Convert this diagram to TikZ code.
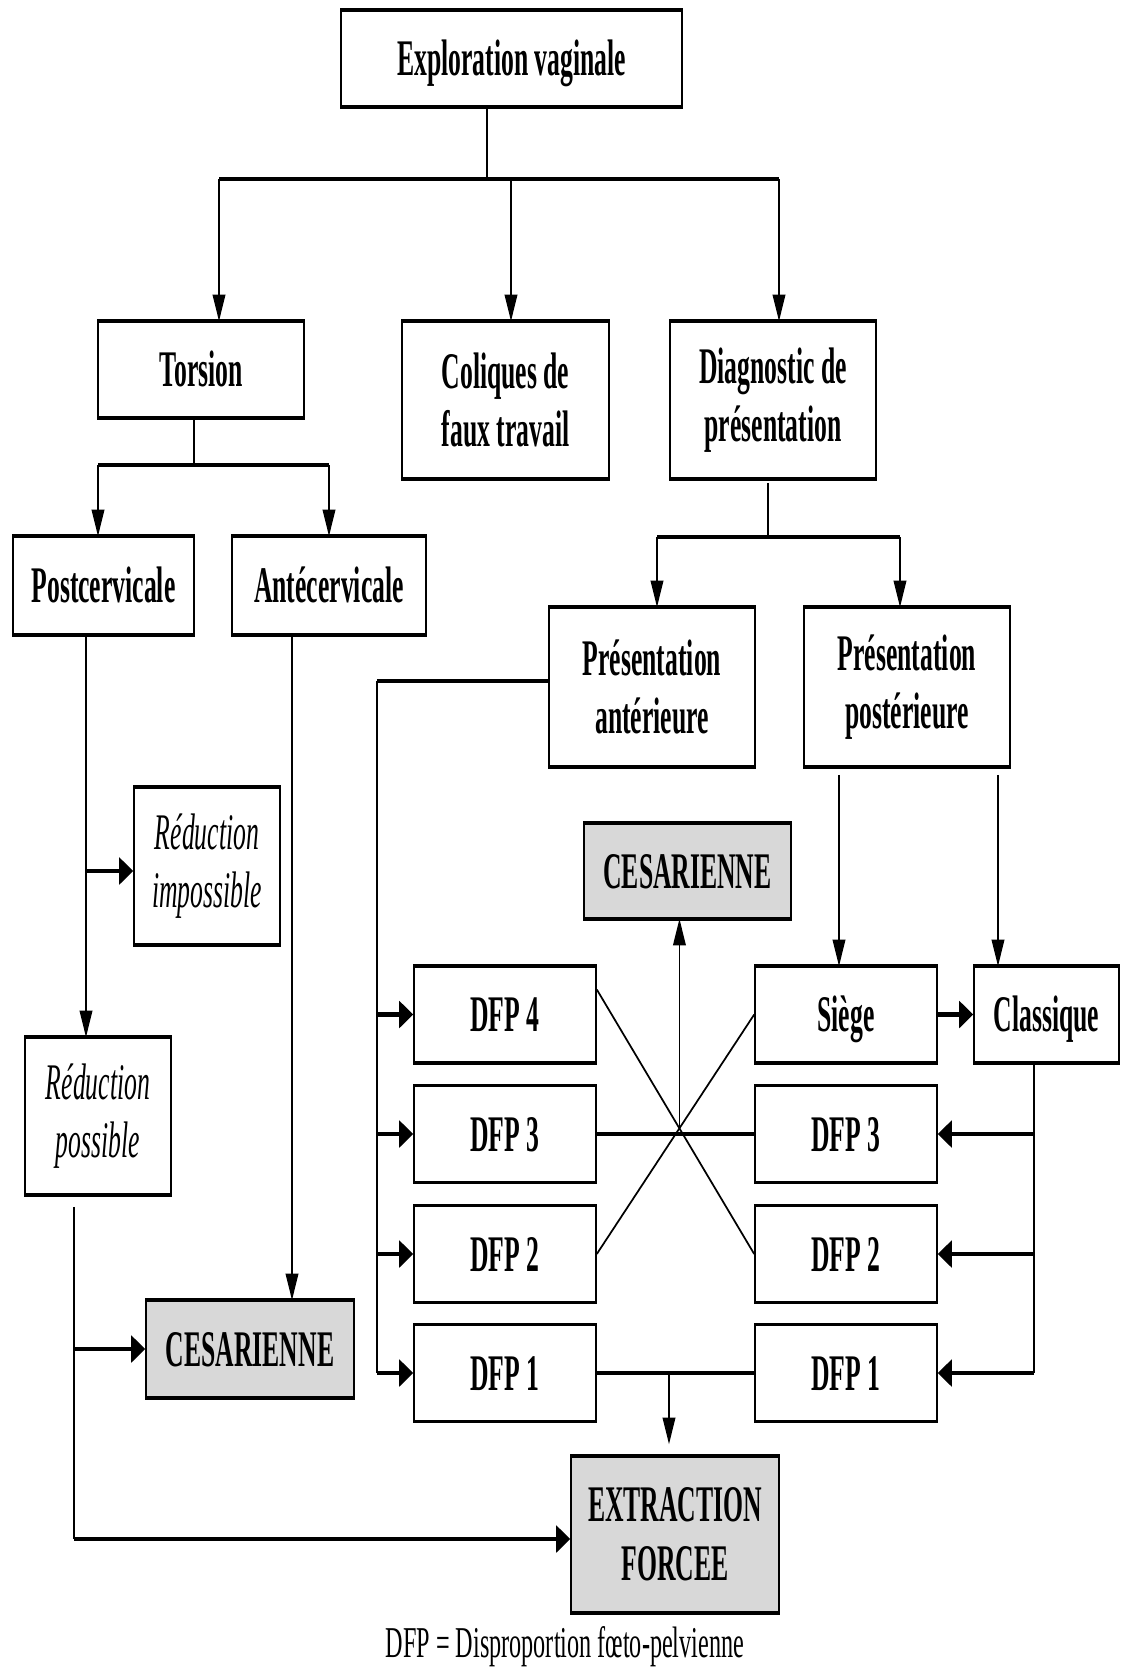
\documentclass[tikz,border=0pt]{standalone}
\usepackage{fontspec}
\setmainfont{Liberation Serif}[FakeStretch=0.55]
\newfontfamily\boxfont{Liberation Serif}[FakeStretch=0.5]
\usetikzlibrary{arrows.meta,calc}

\definecolor{boxgrey}{RGB}{216,216,216}

\tikzset{
  box/.style={draw, line width=1.2pt, inner sep=0pt, align=center,
    font=\boxfont\fontsize{38.5}{44}\selectfont\bfseries},
  oneline/.style={text height=25.5pt, text depth=0pt},
  greybox/.style={box, fill=boxgrey},
  notebox/.style={box, font=\boxfont\fontsize{38.5}{44}\selectfont\itshape},
  dfpbox/.style={box, oneline, minimum width=136.5pt, minimum height=71.25pt},
  vline/.style={line width=1.2pt},
  hline/.style={line width=2.4pt},
  dline/.style={line width=1.3pt},
  varr/.style={vline, -{Triangle[length=20pt,width=9.5pt]}},
  harr/.style={line width=3.2pt, -{Triangle[length=10.5pt,width=20pt]}},
}

\begin{document}
\begin{tikzpicture}[x=0.75pt,y=0.75pt,yscale=-1,xscale=1]
\useasboundingbox (0,0) rectangle (1121,1668);

%Boxes: top levels
\node (expl) at (511.5,58.5) [box, oneline, minimum width=255.75pt, minimum height=71.25pt] {Exploration vaginale};
\node (tors) at (201,369.5) [box, oneline, minimum width=154.5pt, minimum height=71.25pt] {Torsion};
\node (coliq) at (505.5,400) [box, minimum width=155pt, minimum height=117pt] {Coliques de\\faux travail};
\node (diag) at (773,400) [box, minimum width=154.5pt, minimum height=117pt] {Diagnostic de\\présentation};
\node (postc) at (103.5,585.5) [box, oneline, minimum width=135.75pt, minimum height=72.75pt] {Postcervicale};
\node (antec) at (329,585.5) [box, oneline, minimum width=145.5pt, minimum height=72.75pt] {Antécervicale};
\node (prant) at (652,687) [box, minimum width=154.5pt, minimum height=118.5pt] {Présentation\\antérieure};
\node (prpost) at (907,687) [box, minimum width=154.5pt, minimum height=118.5pt] {Présentation\\postérieure};

%Boxes: left branch
\node (redimp) at (207,866) [notebox, minimum width=109.5pt, minimum height=117pt] {Réduction\\impossible};
\node (redpos) at (98,1116) [notebox, minimum width=109.5pt, minimum height=117pt] {Réduction\\possible};
\node (cesdn) at (250,1349) [greybox, oneline, minimum width=156pt, minimum height=72pt] {CESARIENNE};

%Boxes: DFP grid
\node (cesup) at (687.5,871) [greybox, oneline, minimum width=155.25pt, minimum height=70.5pt] {CESARIENNE};
\node (d4l) at (505,1014.5) [dfpbox] {DFP 4};
\node (d3l) at (505,1134) [dfpbox] {DFP 3};
\node (d2l) at (505,1254) [dfpbox] {DFP 2};
\node (d1l) at (505,1373) [dfpbox] {DFP 1};
\node (siege) at (846,1014.5) [dfpbox] {Siège};
\node (classq) at (1046.5,1014.5) [box, oneline, minimum width=108.75pt, minimum height=71.25pt] {Classique};
\node (d3r) at (846,1134) [dfpbox] {DFP 3};
\node (d2r) at (846,1254) [dfpbox] {DFP 2};
\node (d1r) at (846,1373) [dfpbox] {DFP 1};
\node (extr) at (675,1534.5) [greybox, minimum width=156pt, minimum height=116.25pt] {EXTRACTION\\FORCEE};

% Text Node
\node (note) at (565,1657) [anchor=base, font=\fontsize{33}{36}\selectfont] {DFP = Disproportion fœto-pelvienne};

%heavier top and bottom edges
\foreach \n in {expl,tors,coliq,diag,postc,antec,prant,prpost,redimp,redpos,cesdn,cesup,d4l,d3l,d2l,d1l,siege,classq,d3r,d2r,d1r,extr}
  \draw [line width=2.6pt] (\n.north west) -- (\n.north east) (\n.south west) -- (\n.south east);

%Straight Lines: exploration
\coordinate (j1) at (487,179);
\coordinate (j1l) at (219,179);
\coordinate (j1m) at (511,179);
\coordinate (j1r) at (779,179);
\draw [vline] (j1 |- expl.south) -- (j1);
\draw [hline] (j1l) -- (j1r);
\draw [varr] (j1l) -- (j1l |- tors.north);
\draw [varr] (j1m) -- (j1m |- coliq.north);
\draw [varr] (j1r) -- (j1r |- diag.north);

%Straight Lines: torsion
\coordinate (j2) at (194,465);
\coordinate (j2l) at (98,465);
\coordinate (j2r) at (329,465);
\draw [vline] (j2 |- tors.south) -- (j2);
\draw [hline] (j2l) -- (j2r);
\draw [varr] (j2l) -- (j2l |- postc.north);
\draw [varr] (j2r) -- (j2r |- antec.north);

%Straight Lines: diagnostic
\coordinate (j3) at (768,537);
\coordinate (j3l) at (657,537);
\coordinate (j3r) at (900,537);
\draw [vline, shorten <=3pt] (j3 |- diag.south) -- (j3);
\draw [hline] (j3l) -- (j3r);
\draw [varr] (j3l) -- (j3l |- prant.north);
\draw [varr] (j3r) -- (j3r |- prpost.north);

%Straight Lines: anterior presentation to DFP
\coordinate (j4) at (377,681);
\draw [hline] (j4 -| prant.west) -- (j4);
\draw [vline] (j4) -- (j4 |- d1l.west);
\foreach \n in {d4l,d3l,d2l,d1l}
  \draw [harr] (j4 |- \n.west) -- (\n.west);

%Straight Lines: postcervicale
\coordinate (j5) at (86,871);
\draw [varr] (j5 |- postc.south) -- (j5 |- redpos.north);
\draw [harr] (j5) -- (j5 -| redimp.west);

%Straight Lines: antecervicale
\coordinate (j6) at (292,634);
\draw [varr] (j6 |- antec.south) -- (j6 |- cesdn.north);

%Straight Lines: reduction possible
\coordinate (j7) at (74,1349);
\coordinate (j7b) at (74,1539);
\draw [vline, shorten <=9pt] (j7 |- redpos.south) -- (j7b);
\draw [harr] (j7) -- (cesdn.west);
\draw [harr] (j7b) -- (j7b -| extr.west);

%Straight Lines: posterior presentation
\coordinate (j8l) at (839,766);
\coordinate (j8r) at (998,766);
\draw [varr, shorten <=6pt] (j8l |- prpost.south) -- (j8l |- siege.north);
\draw [varr, shorten <=6pt] (j8r |- prpost.south) -- (j8r |- classq.north);
\draw [harr] (siege) -- (classq);

%Straight Lines: classique to DFP
\coordinate (j9) at (1034,1373);
\draw [vline] (j9 |- classq.south) -- (j9);
\foreach \n in {d3r,d2r,d1r}
  \draw [harr] (j9 |- \n.east) -- (\n.east);

%Crossing lines
\coordinate (d4o) at ($(d4l.east)+(0,-25)$);
\draw [dline] (d4o) -- (d2r.west);
\draw [dline] (siege.west) -- (d2l.east);
\draw [hline] (d3l) -- (d3r);
\coordinate (mid) at (intersection of d4o--d2r.west and siege.west--d2l.east);
\draw [varr] (mid) -- (mid |- cesup.south);

%DFP 1 to extraction
\coordinate (j10) at (669,1373);
\draw [hline] (d1l) -- (d1r);
\draw [varr, shorten >=9pt] (j10) -- (j10 |- extr.north);

\end{tikzpicture}
\end{document}
